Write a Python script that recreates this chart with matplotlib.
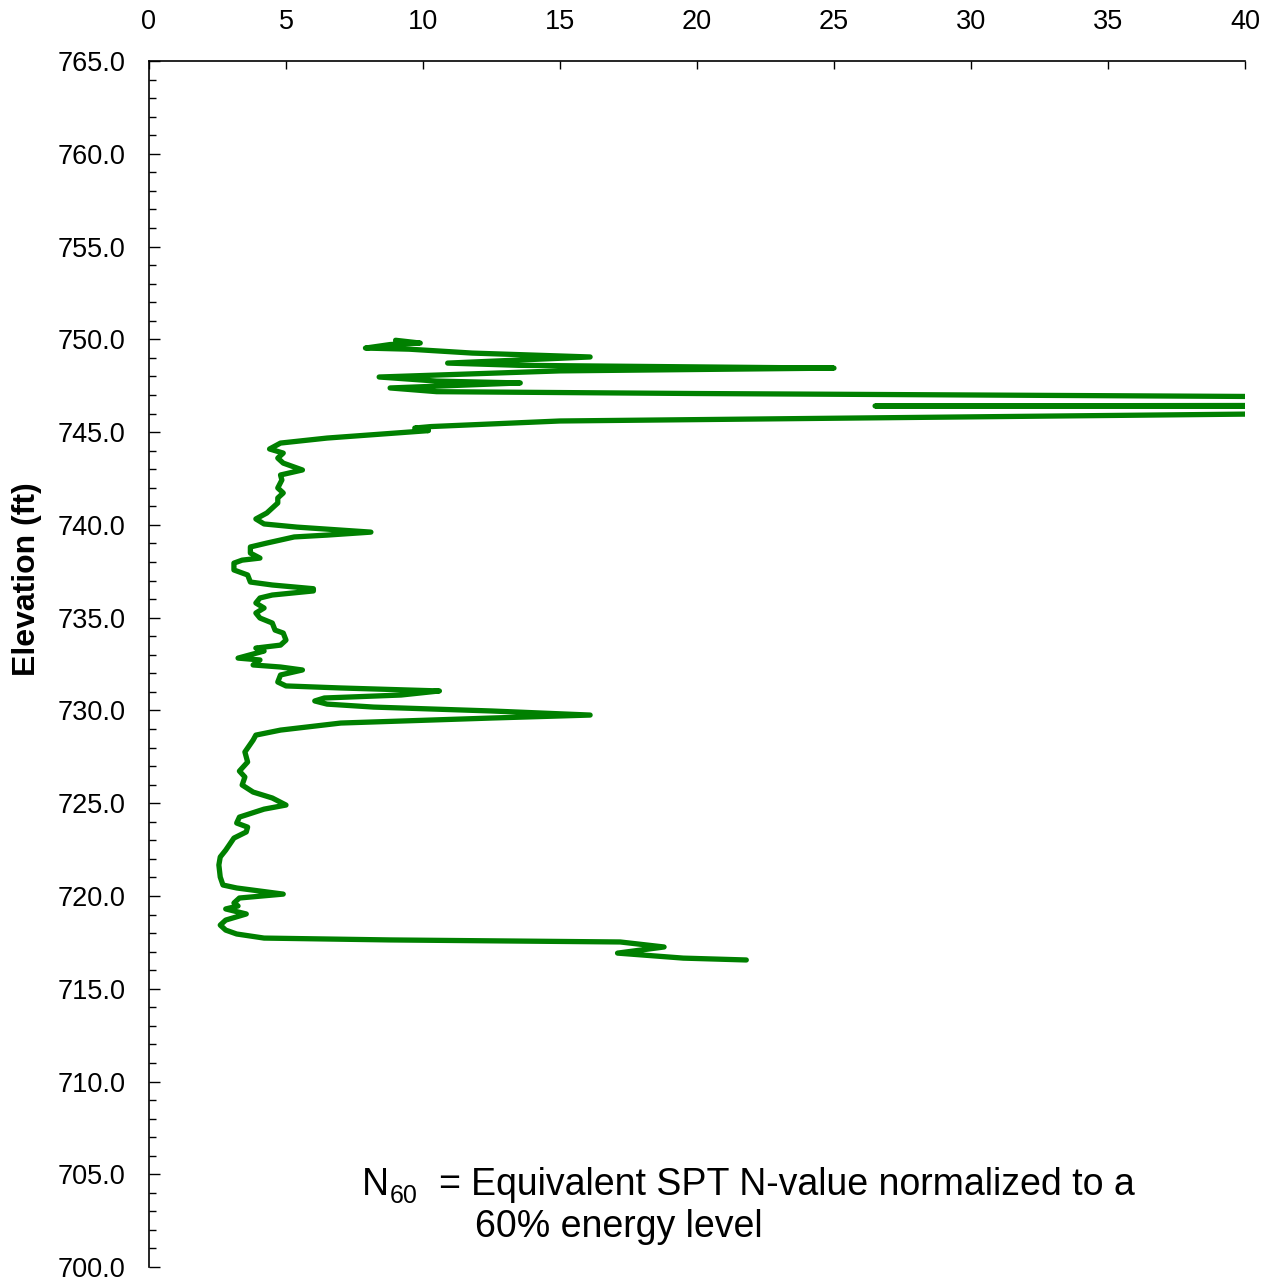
import matplotlib

matplotlib.use("Agg")
import matplotlib.pyplot as plt
from matplotlib.ticker import MultipleLocator, FormatStrFormatter

plt.rcParams["font.family"] = ["Liberation Sans", "DejaVu Sans"]

# N60 profile, top of boring to bottom (values past 40 run off the plot)
n60 = [
    9.0, 9.9, 8.8, 7.9, 9.5, 11.8, 16.1, 13.0, 10.9, 13.5, 25.0, 15.0, 8.4,
    10.5, 13.55, 10.0, 8.8, 10.5, 20.0, 40.0, 48.0, 48.0, 26.5, 48.0, 48.0,
    40.0, 15.0, 10.3, 9.7, 10.2, 6.5,
    4.8, 4.4, 4.9, 4.7, 4.9, 5.6, 4.8, 4.85, 4.7, 4.9, 4.7, 4.7, 4.5, 4.3,
    3.9, 4.2, 5.4, 8.1, 6.5, 5.3, 4.3, 3.7, 3.7, 4.05, 3.4, 3.1, 3.1, 3.6,
    3.7, 4.5, 6.0, 6.0, 4.5, 4.05, 3.9, 4.2, 3.9, 4.05, 4.5, 4.6, 4.9, 5.0,
    4.8, 3.9, 4.2, 3.25, 4.05, 3.8, 4.8, 5.6, 4.8, 4.7, 5.0, 7.0, 10.6, 9.2,
    6.4, 6.05, 6.5, 8.2, 12.5, 16.1, 12.5, 7.0, 4.8, 3.9, 3.8,
    3.5, 3.6, 3.3, 3.5, 3.4, 3.8, 4.5, 5.0, 4.2, 3.3, 3.2, 3.6, 3.55, 3.1,
    2.8, 2.6, 2.55, 2.6, 2.7, 3.2, 4.9, 3.3, 3.1, 3.25, 2.8, 3.55, 2.8, 2.6,
    2.8, 3.2, 4.2, 8.8, 17.2, 18.8, 17.1, 19.5, 21.8,
]
elev = [
    749.95, 749.80, 749.72, 749.53, 749.47, 749.26, 749.05, 748.85, 748.72,
    748.60, 748.45, 748.30, 747.97, 747.75, 747.65, 747.45, 747.38, 747.18,
    747.08, 746.92, 746.88, 746.45, 746.41, 746.38, 746.00, 745.97, 745.60,
    745.30, 745.22, 745.08, 744.68,
    744.41, 744.09, 743.87, 743.60, 743.33, 742.96, 742.69, 742.42, 741.99,
    741.72, 741.45, 741.18, 740.91, 740.64, 740.32, 740.05, 739.88, 739.61,
    739.45, 739.35, 739.02, 738.81, 738.48, 738.21, 738.10, 737.94, 737.57,
    737.30, 736.92, 736.76, 736.56, 736.44, 736.22, 736.06, 735.79, 735.52,
    735.25, 734.98, 734.71, 734.33, 734.17, 733.79, 733.52, 733.36, 733.20,
    732.82, 732.72, 732.45, 732.34, 732.18, 731.91, 731.53, 731.32, 731.21,
    731.05, 730.83, 730.67, 730.51, 730.34, 730.18, 729.97, 729.75, 729.59,
    729.32, 728.94, 728.67, 728.40,
    727.76, 727.22, 726.73, 726.41, 725.98, 725.60, 725.28, 724.90, 724.68,
    724.25, 723.93, 723.71, 723.45, 723.12, 722.47, 722.10, 721.67, 721.02,
    720.59, 720.43, 720.10, 719.89, 719.62, 719.46, 719.30, 719.03, 718.70,
    718.43, 718.16, 717.95, 717.73, 717.63, 717.52, 717.25, 716.92, 716.65,
    716.55,
]

x_ticks = [0, 5, 10, 15, 20, 25, 30, 35, 40]

fig = plt.figure(figsize=(12.67, 12.77), dpi=100)
ax = fig.add_axes([0.1176, 0.0078, 0.8650, 0.9444])

ax.plot(n60, elev, color="#008000", linewidth=3.8,
        solid_capstyle="round", solid_joinstyle="round")

ax.set_xlim(0, 40)
ax.set_ylim(700, 765)

# x axis along the top, only left and top frame lines
ax.xaxis.set_ticks_position("top")
ax.xaxis.set_label_position("top")
ax.spines["right"].set_visible(False)
ax.spines["bottom"].set_visible(False)
for side in ("left", "top"):
    ax.spines[side].set_linewidth(1.2)

ax.set_xticks(x_ticks)
ax.yaxis.set_major_locator(MultipleLocator(5))
ax.yaxis.set_minor_locator(MultipleLocator(1))
ax.yaxis.set_major_formatter(FormatStrFormatter("%.1f"))

ax.tick_params(axis="x", which="major", direction="in", length=6, width=1,
               labelsize=19.5, pad=19)
ax.tick_params(axis="y", which="major", direction="in", length=8, width=1,
               labelsize=19.5, pad=17)
ax.tick_params(axis="y", which="minor", direction="in", length=5, width=1)

ax.set_ylabel("Elevation (ft)", fontsize=23, fontweight="bold")
ax.yaxis.set_label_coords(-0.098, 0.57)

# footnote defining N60
ax.text(7.78, 704.42, "N", fontsize=27, ha="left", va="center")
ax.text(8.77, 703.85, "60", fontsize=18, ha="left", va="center")
ax.text(10.56, 704.42, "=", fontsize=27, ha="left", va="center")
ax.text(11.75, 704.42, "Equivalent SPT N-value normalized to a",
        fontsize=27, ha="left", va="center")
ax.text(11.9, 702.16, "60% energy level", fontsize=27, ha="left", va="center")

fig.savefig("out.png", dpi=100)
